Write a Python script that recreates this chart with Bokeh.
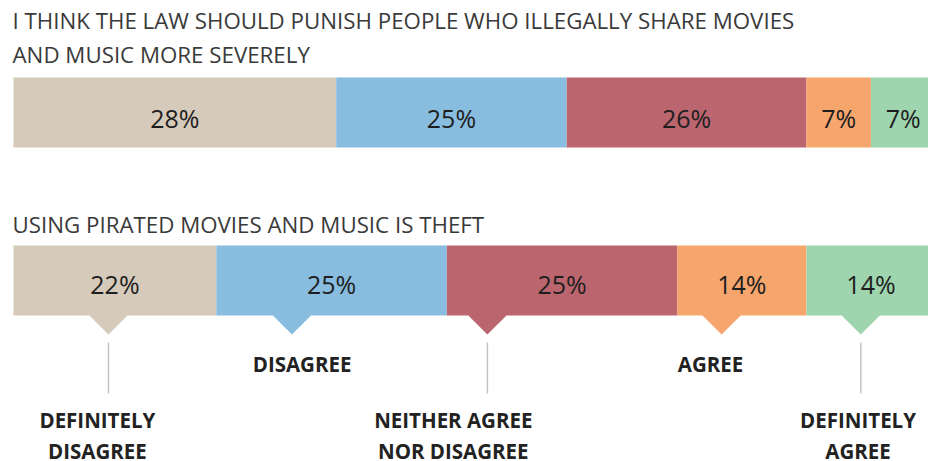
from bokeh.plotting import figure
from bokeh.models import Range1d, ColumnDataSource
from bokeh.core.properties import value
from bokeh.embed import file_html
from bokeh.resources import INLINE

# ---- data ----
categories = ["DEFINITELY DISAGREE", "DISAGREE", "NEITHER AGREE NOR DISAGREE", "AGREE", "DEFINITELY AGREE"]
colors = ["#d6cabb", "#88bde0", "#bb666f", "#f6a66d", "#9ed4ae"]

q1_title = ["I THINK THE LAW SHOULD PUNISH PEOPLE WHO ILLEGALLY SHARE MOVIES",
            "AND MUSIC MORE SEVERELY"]
q1_labels = [28, 25, 26, 7, 7]      # printed percentages
q1_widths = [35, 25, 26, 7, 7]      # segment widths as drawn in the picture

q2_title = ["USING PIRATED MOVIES AND MUSIC IS THEFT"]
q2_values = [22, 25, 25, 14, 14]

# legend annotation layout (in percent units along the bar)
pointer_x = [10.3, 30.2, 51.4, 76.8, 91.9]
legend_lines = [["DEFINITELY", "DISAGREE"], ["DISAGREE"], ["NEITHER AGREE", "NOR DISAGREE"],
                ["AGREE"], ["DEFINITELY", "AGREE"]]
legend_x = [9.1, 31.3, 47.7, 75.6, 91.6]
legend_low = [True, False, True, False, True]

# ---- layout constants (page pixels for y) ----
W, H = 928, 461
PX_PER_PCT = 9.22
X0_PAGE = 13
x_start = (0 - X0_PAGE) / PX_PER_PCT
x_end = (W - X0_PAGE) / PX_PER_PCT
TS = -9  # text baseline correction

p = figure(width=W, height=H, output_backend="svg", toolbar_location=None,
           x_range=Range1d(x_start, x_end), y_range=Range1d(H, 0),
           min_border=0, background_fill_color="white", border_fill_color="white")
p.axis.visible = False
p.grid.visible = False
p.outline_line_color = None

BAR_H = 70
bar1_y = 112
bar2_y = 280

FONT = value("Open Sans")


def cum(vals):
    lefts, rights, s = [], [], 0
    for v in vals:
        lefts.append(s)
        s += v
        rights.append(s)
    return lefts, rights


# pointers (rotated squares, upper half hidden by bar)
p.scatter(x=pointer_x, y=[bar2_y + BAR_H / 2] * 5, marker="square", size=27, angle=0.785398,
          fill_color=colors, line_color=None)

# bar 1
l1, r1 = cum(q1_widths)
src1 = ColumnDataSource(dict(left=l1, right=r1, color=colors,
                             mid=[(a + b) / 2 for a, b in zip(l1, r1)],
                             lab=[f"{v}%" for v in q1_labels]))
p.hbar(y=bar1_y, left="left", right="right", height=BAR_H, fill_color="color",
       line_color=None, source=src1)
p.text(x="mid", y=bar1_y + 14 + TS, text="lab", source=src1, text_align="center",
       text_baseline="alphabetic", text_font=FONT, text_font_size=value("25px"),
       text_color="#1e1e1e")

# bar 2
l2, r2 = cum(q2_values)
src2 = ColumnDataSource(dict(left=l2, right=r2, color=colors,
                             mid=[(a + b) / 2 for a, b in zip(l2, r2)],
                             lab=[f"{v}%" for v in q2_values]))
p.hbar(y=bar2_y, left="left", right="right", height=BAR_H, fill_color="color",
       line_color=None, source=src2)
p.text(x="mid", y=bar2_y + 12.5 + TS, text="lab", source=src2, text_align="center",
       text_baseline="alphabetic", text_font=FONT, text_font_size=value("25px"),
       text_color="#1e1e1e")

# titles
tx = (12 - X0_PAGE) / PX_PER_PCT
p.text(x=[tx, tx], y=[29 + TS, 63 + TS], text=q1_title, text_align="left", text_baseline="alphabetic",
       text_font=FONT, text_font_size=value("22.3px"), text_color="#3a3a3a")
p.text(x=[tx], y=[233 + TS], text=q2_title, text_align="left", text_baseline="alphabetic",
       text_font=FONT, text_font_size=value("22.3px"), text_color="#3a3a3a")

# connector lines for low labels
lx = [px for px, low in zip(pointer_x, legend_low) if low]
p.segment(x0=lx, x1=lx, y0=[342] * len(lx), y1=[393] * len(lx), line_color="#c4c4c4", line_width=1.5)

# legend labels
xs, ys, ts = [], [], []
for x, lines, low in zip(legend_x, legend_lines, legend_low):
    base = 428 if low else 372
    for i, t in enumerate(lines):
        xs.append(x)
        ys.append(base + 31 * i + TS)
        ts.append(t)
p.text(x=xs, y=ys, text=ts, text_align="center", text_baseline="alphabetic",
       text_font=FONT, text_font_style="bold", text_font_size=value("20.5px"),
       text_color="#222222")

open("out.html", "w").write(file_html(p, INLINE))
